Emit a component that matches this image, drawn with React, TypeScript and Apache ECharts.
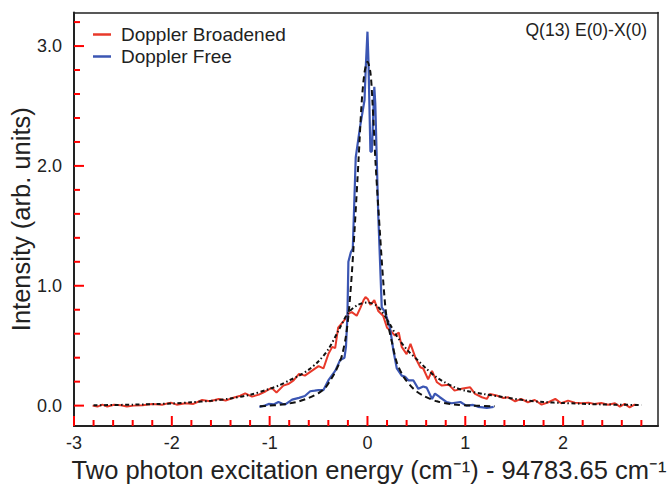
import React, { useEffect, useRef } from "react";
import * as echarts from "echarts";

// Doppler broadened spectrum (red), [energy offset cm-1, intensity]
const broadened: number[][] = [
  [-2.81, 0.0], [-2.76, -0.008], [-2.71, 0.008], [-2.66, -0.008], [-2.59, 0.008], [-2.52, 0.003],
  [-2.46, -0.008], [-2.39, 0.0], [-2.3, 0.003], [-2.2, 0.014], [-2.1, 0.008], [-2.01, 0.025],
  [-1.95, 0.008], [-1.86, 0.02], [-1.78, 0.014], [-1.69, 0.047], [-1.61, 0.036], [-1.52, 0.056],
  [-1.45, 0.042], [-1.38, 0.064], [-1.3, 0.083], [-1.25, 0.103], [-1.18, 0.075], [-1.11, 0.092],
  [-1.04, 0.12], [-0.98, 0.148], [-0.93, 0.11], [-0.86, 0.167], [-0.81, 0.18], [-0.755, 0.21],
  [-0.7, 0.265], [-0.64, 0.25], [-0.57, 0.29], [-0.5, 0.33], [-0.45, 0.31], [-0.4, 0.43],
  [-0.36, 0.49], [-0.33, 0.48], [-0.3, 0.65], [-0.28, 0.67], [-0.23, 0.72], [-0.19, 0.77],
  [-0.16, 0.78], [-0.11, 0.75], [-0.07, 0.82], [-0.04, 0.88], [-0.02, 0.905], [0.003, 0.89],
  [0.03, 0.84], [0.07, 0.88], [0.11, 0.79], [0.16, 0.75], [0.2, 0.65], [0.23, 0.63],
  [0.28, 0.585], [0.32, 0.61], [0.35, 0.49], [0.4, 0.43], [0.44, 0.515], [0.49, 0.4],
  [0.54, 0.32], [0.57, 0.31], [0.62, 0.22], [0.66, 0.29], [0.71, 0.195], [0.76, 0.167],
  [0.83, 0.175], [0.89, 0.125], [0.96, 0.14], [1.05, 0.153], [1.1, 0.098], [1.17, 0.07],
  [1.22, 0.056], [1.25, 0.098], [1.32, 0.084], [1.39, 0.064], [1.44, 0.07], [1.51, 0.036],
  [1.57, 0.056], [1.64, 0.028], [1.71, 0.047], [1.78, 0.008], [1.85, 0.028], [1.92, 0.056],
  [1.98, 0.02], [2.05, 0.042], [2.12, 0.025], [2.19, 0.02], [2.26, 0.025], [2.32, 0.014],
  [2.39, 0.022], [2.46, 0.008], [2.53, 0.02], [2.58, -0.008], [2.63, 0.014], [2.68, -0.014],
  [2.73, 0.008], [2.76, 0.006],
];

// Doppler free spectrum (blue)
const dopplerFree: number[][] = [
  [-1.105, -0.01], [-1.05, 0.0], [-1.01, 0.014], [-0.96, 0.01], [-0.91, 0.03], [-0.87, 0.015],
  [-0.84, 0.01], [-0.77, 0.05], [-0.7, 0.065], [-0.64, 0.08], [-0.585, 0.12], [-0.54, 0.125],
  [-0.5, 0.13], [-0.45, 0.13], [-0.4, 0.21], [-0.33, 0.29], [-0.28, 0.38], [-0.235, 0.4],
  [-0.22, 0.49], [-0.205, 0.75], [-0.195, 1.2], [-0.17, 1.28], [-0.15, 1.31], [-0.12, 2.07],
  [-0.075, 2.33], [-0.03, 2.55], [-0.017, 2.83], [0.0, 3.12], [0.01, 2.88], [0.03, 2.12],
  [0.045, 2.12], [0.07, 2.66], [0.08, 2.52], [0.11, 1.6], [0.146, 0.82], [0.18, 0.78],
  [0.23, 0.65], [0.265, 0.46], [0.3, 0.31], [0.35, 0.25], [0.385, 0.24], [0.42, 0.21],
  [0.47, 0.21], [0.52, 0.14], [0.57, 0.16], [0.605, 0.15], [0.66, 0.056], [0.69, 0.1],
  [0.74, 0.07], [0.81, 0.03], [0.86, 0.02], [0.95, 0.03], [1.01, 0.0], [1.08, 0.006],
  [1.13, -0.01], [1.18, -0.014], [1.22, -0.02], [1.29, -0.01],
];

// Fit to the Doppler broadened spectrum (black dotted)
const broadenedFit: number[][] = [
  [-2.8, 0.003], [-2.4, 0.008], [-2.0, 0.018], [-1.8, 0.028], [-1.6, 0.04], [-1.4, 0.06],
  [-1.2, 0.09], [-1.0, 0.14], [-0.9, 0.17], [-0.8, 0.21], [-0.7, 0.25], [-0.6, 0.3],
  [-0.5, 0.37], [-0.4, 0.47], [-0.3, 0.62], [-0.2, 0.77], [-0.1, 0.84], [0.0, 0.86],
  [0.1, 0.83], [0.2, 0.72], [0.3, 0.58], [0.4, 0.47], [0.5, 0.39], [0.6, 0.31],
  [0.7, 0.24], [0.8, 0.19], [0.9, 0.15], [1.0, 0.125], [1.2, 0.095], [1.4, 0.07],
  [1.6, 0.045], [1.8, 0.03], [2.0, 0.022], [2.4, 0.01], [2.8, 0.005],
];

// Fit to the Doppler free spectrum (black dashed)
const freeFit: number[][] = [
  [-1.1, -0.005], [-1.0, 0.0], [-0.9, 0.006], [-0.8, 0.018], [-0.7, 0.036], [-0.6, 0.065],
  [-0.5, 0.105], [-0.43, 0.15], [-0.38, 0.21], [-0.33, 0.28], [-0.29, 0.35], [-0.26, 0.42],
  [-0.22, 0.58], [-0.19, 0.79], [-0.16, 1.1], [-0.13, 1.49], [-0.09, 2.07], [-0.06, 2.52],
  [-0.03, 2.78], [0.0, 2.87], [0.03, 2.78], [0.05, 2.55], [0.085, 1.99], [0.13, 1.41],
  [0.16, 1.05], [0.19, 0.77], [0.22, 0.64], [0.25, 0.53], [0.3, 0.36], [0.37, 0.24],
  [0.47, 0.14], [0.57, 0.083], [0.71, 0.036], [0.88, 0.01], [1.08, 0.0], [1.3, -0.005],
];

// Tick positions (major ticks carry the labels)
const xMajorTicks = [-3, -2, -1, 0, 1, 2];
const xMinorTicks = [
  -2.8, -2.6, -2.4, -2.2, -1.8, -1.6, -1.4, -1.2, -0.8, -0.6, -0.4, -0.2,
  0.2, 0.4, 0.6, 0.8, 1.2, 1.4, 1.6, 1.8, 2.2, 2.4, 2.6, 2.8,
];
const yMajorTicks = [0, 1, 2, 3];
const yMinorTicks = [0.2, 0.4, 0.6, 0.8, 1.2, 1.4, 1.6, 1.8, 2.2, 2.4, 2.6, 2.8, 3.2];

const seriesNames = ["Doppler Broadened", "Doppler Free"];
const xRange = [-3, 2.97];
const yRange = [-0.17, 3.28];
const xTitle = "Two photon excitation energy (cm\u207B\u00B9) - 94783.65 cm\u207B\u00B9";
const yTitle = "Intensity (arb. units)";
const panelLabel = "Q(13) E(0)-X(0)";

const FONT = "'Liberation Sans', Arial, Helvetica, sans-serif";
const INK = "#222";
const TICK = "#ff0000";

const isInt = (v: number) => Math.abs(v - Math.round(v)) < 1e-6;

export default function App() {
  const ref = useRef<HTMLDivElement>(null);
  useEffect(() => {
    if (!ref.current) return;
    const chart = echarts.init(ref.current, undefined, { renderer: "svg" });
    const noTicks = {
      axisTick: { show: false },
      minorTick: { show: false },
      splitLine: { show: false },
    };
    const frameAxis = {
      type: "value",
      axisLine: { show: true, onZero: false, lineStyle: { color: INK, width: 1.5 } },
      axisTick: { show: false },
      minorTick: { show: false },
      axisLabel: { show: false },
      splitLine: { show: false },
    };
    const labelGraphic = {
      type: "text",
      x: 647,
      y: 30,
      silent: true,
      style: {
        text: panelLabel,
        fill: INK,
        fontSize: 17.5,
        fontFamily: FONT,
        align: "right",
        verticalAlign: "middle",
      },
    };
    chart.setOption({
      animation: false,
      backgroundColor: "#fff",
      textStyle: { fontFamily: FONT },
      legend: {
        data: seriesNames,
        orient: "vertical",
        left: 88,
        top: 20,
        icon: "rect",
        itemWidth: 18,
        itemHeight: 2.5,
        itemGap: 3,
        textStyle: { fontSize: 19, color: INK, lineHeight: 19, padding: [0, 0, 0, 5], fontFamily: FONT },
      },
      graphic: [labelGraphic],
      grid: {
        left: 74,
        right: 11,
        top: 12.5,
        bottom: 62,
        outerBoundsMode: "none",
      },
      xAxis: [
        {
          type: "value",
          min: xRange[0],
          max: xRange[1],
          interval: 1,
          position: "bottom",
          axisLine: { show: true, onZero: false, lineStyle: { color: INK, width: 2 } },
          ...noTicks,
          axisLabel: {
            show: true,
            fontSize: 18,
            color: INK,
            margin: 8,
            fontFamily: FONT,
            showMaxLabel: false,
            formatter: (v: number) => (isInt(v) ? String(Math.round(v)) : ""),
          },
          name: xTitle,
          nameLocation: "middle",
          nameGap: 31,
          nameMoveOverlap: false,
          nameTextStyle: { fontSize: 25.5, color: INK, padding: [0, 0, 0, 6], fontFamily: FONT },
        },
        { ...frameAxis, min: xRange[0], max: xRange[1], position: "top" },
      ],
      yAxis: [
        {
          type: "value",
          min: yRange[0],
          max: yRange[1],
          minInterval: 1,
          maxInterval: 1,
          splitNumber: 3,
          position: "left",
          axisLine: { show: true, onZero: false, lineStyle: { color: INK, width: 2 } },
          ...noTicks,
          axisLabel: {
            show: true,
            fontSize: 18,
            color: INK,
            margin: 12,
            fontFamily: FONT,
            formatter: (v: number) => (isInt(v) ? v.toFixed(1) : ""),
          },
          name: yTitle,
          nameLocation: "middle",
          nameGap: 40,
          nameMoveOverlap: false,
          nameTextStyle: { fontSize: 25.5, color: INK, fontFamily: FONT },
        },
        { ...frameAxis, min: yRange[0], max: yRange[1], position: "right" },
      ],
      series: [
        {
          name: seriesNames[0],
          type: "line",
          data: broadened,
          showSymbol: false,
          silent: true,
          lineStyle: { color: "#e8392a", width: 2 },
          itemStyle: { color: "#e8392a" },
          z: 2,
        },
        {
          name: seriesNames[1],
          type: "line",
          data: dopplerFree,
          showSymbol: false,
          silent: true,
          lineStyle: { color: "#3b56b3", width: 2.2 },
          itemStyle: { color: "#3b56b3" },
          z: 3,
        },
        {
          name: "Broadened fit",
          type: "line",
          data: broadenedFit,
          showSymbol: false,
          silent: true,
          smooth: 0.3,
          lineStyle: { color: "#111", width: 2, type: [4, 2.5, 1.5, 2.5] },
          itemStyle: { color: "#111" },
          z: 4,
        },
        {
          name: "Free fit",
          type: "line",
          data: freeFit,
          showSymbol: false,
          silent: true,
          smooth: 0.3,
          lineStyle: { color: "#111", width: 2, type: [6, 4] },
          itemStyle: { color: "#111" },
          z: 5,
        },
      ],
    });

    // Inside ticks, placed through the grid's own scales
    const tickEls: any[] = [];
    const addTicks = (values: number[], vertical: boolean, len: number, width: number) => {
      values.forEach((v) => {
        const p = chart.convertToPixel({ gridIndex: 0 }, vertical ? [v, yRange[0]] : [xRange[0], v]) as number[];
        if (!p || !isFinite(p[0]) || !isFinite(p[1])) return;
        tickEls.push({
          type: "line",
          silent: true,
          z: 100,
          shape: vertical
            ? { x1: p[0], y1: p[1], x2: p[0], y2: p[1] - len }
            : { x1: p[0], y1: p[1], x2: p[0] + len, y2: p[1] },
          style: { stroke: TICK, lineWidth: width },
        });
      });
    };
    addTicks(xMajorTicks, true, 10, 2);
    addTicks(xMinorTicks, true, 6, 2);
    addTicks(yMajorTicks, false, 10, 2);
    addTicks(yMinorTicks, false, 6, 2);
    chart.setOption({ graphic: [labelGraphic, ...tickEls] });

    return () => chart.dispose();
  }, []);
  return (
    <div
      ref={ref}
      style={{ position: "absolute", left: 0, top: 0, width: 669, height: 488 }}
    />
  );
}
